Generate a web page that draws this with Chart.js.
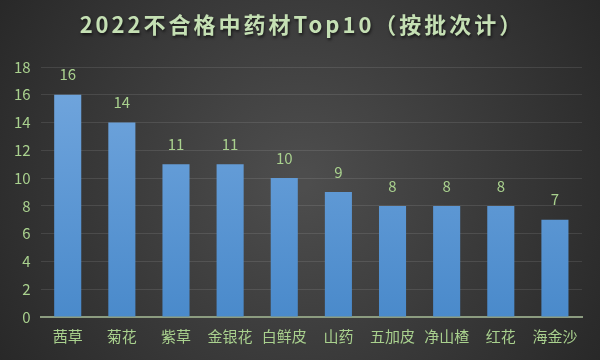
<!DOCTYPE html>
<html>
<head>
<meta charset="utf-8">
<script src="https://cdn.jsdelivr.net/npm/chart.js@4"></script>
<style>
  html, body { margin: 0; padding: 0; background: #333; }
  #wrap { width: 600px; height: 360px; position: relative; }
</style>
</head>
<body>
<div id="wrap"><canvas id="herbChart"></canvas></div>
<script>
// chart data
const herbs = ['茜草', '菊花', '紫草', '金银花', '白鲜皮', '山药', '五加皮', '净山楂', '红花', '海金沙'];
const batches = [16, 14, 11, 11, 10, 9, 8, 8, 8, 7];
const titleText = '2022不合格中药材Top10（按批次计）';

const green = '#a9d18e';
const fontFam = "'Noto Sans CJK SC', 'Noto Sans', sans-serif";

/** radial grey backdrop */
const backdrop = {
  id: 'backdrop',
  beforeDraw(chart) {
    const { ctx, width, height } = chart;
    const g = ctx.createRadialGradient(width / 2, height / 2, 10, width / 2, height / 2, width * 0.62);
    g.addColorStop(0, '#4d4d4d');
    g.addColorStop(1, '#262626');
    ctx.save();
    ctx.fillStyle = g;
    ctx.fillRect(0, 0, width, height);
    ctx.restore();
  }
};

/** title with letter spacing and shadow */
const spacedTitle = {
  id: 'spacedTitle',
  afterDraw(chart) {
    const ctx = chart.ctx;
    ctx.save();
    ctx.font = 'bold 22px ' + fontFam;
    ctx.letterSpacing = '3px';
    ctx.textAlign = 'center';
    ctx.textBaseline = 'middle';
    ctx.shadowColor = 'rgba(0,0,0,0.6)';
    ctx.shadowOffsetX = 1;
    ctx.shadowOffsetY = 2;
    ctx.shadowBlur = 3;
    ctx.fillStyle = '#c5e0b4';
    ctx.fillText(titleText, chart.width / 2 + 2, 25);
    ctx.restore();
  }
};

/** value labels above bars */
const valueLabels = {
  id: 'valueLabels',
  afterDatasetsDraw(chart) {
    const ctx = chart.ctx;
    const meta = chart.getDatasetMeta(0);
    ctx.save();
    ctx.font = '15px ' + fontFam;
    ctx.fillStyle = green;
    ctx.textAlign = 'center';
    ctx.textBaseline = 'middle';
    meta.data.forEach((bar, i) => {
      ctx.fillText(String(batches[i]), bar.x, bar.y - 20);
    });
    ctx.restore();
  }
};

new Chart(document.getElementById('herbChart'), {
  type: 'bar',
  data: {
    labels: herbs,
    datasets: [{
      data: batches,
      backgroundColor: (c) => {
        const area = c.chart.chartArea;
        if (!area) return '#5b9bd5';
        const g = c.chart.ctx.createLinearGradient(0, area.top, 0, area.bottom);
        g.addColorStop(0, '#73a7de');
        g.addColorStop(1, '#4a8acb');
        return g;
      },
      borderWidth: 0,
      barPercentage: 0.5,
      categoryPercentage: 1
    }]
  },
  options: {
    responsive: true,
    maintainAspectRatio: false,
    animation: false,
    layout: { padding: { top: 67, right: 18, left: 4, bottom: 13 } },
    plugins: {
      legend: { display: false },
      tooltip: { enabled: false }
    },
    scales: {
      x: {
        grid: { display: false },
        border: { color: '#8c9c80', width: 2 },
        ticks: { color: green, font: { family: fontFam, size: 15 }, padding: 2 }
      },
      y: {
        min: 0,
        max: 18,
        ticks: { stepSize: 2, color: green, font: { family: fontFam, size: 15 }, padding: 10 },
        grid: { color: 'rgba(255,255,255,0.1)', drawTicks: false },
        border: { display: false }
      }
    }
  },
  plugins: [backdrop, spacedTitle, valueLabels]
});
</script>
</body>
</html>
